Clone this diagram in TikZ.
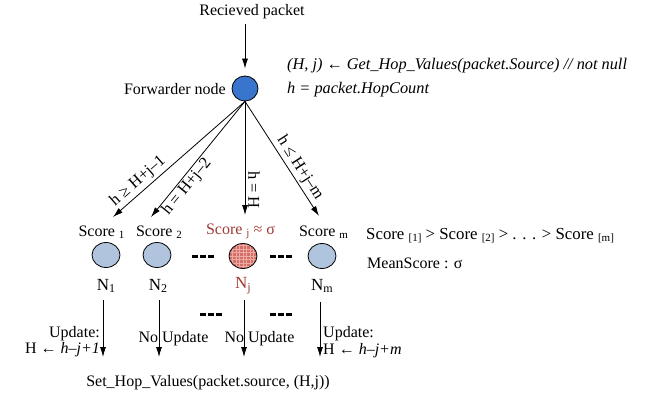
\documentclass[tikz,border=0pt]{standalone}
\usepackage{fontspec}
\setmainfont{Liberation Serif}
\usetikzlibrary{arrows.meta,shapes.geometric}
\definecolor{fwblue}{RGB}{58,117,205}
\definecolor{nblue}{RGB}{176,196,222}
\definecolor{nred}{RGB}{212,112,106}
\definecolor{gridred}{RGB}{238,170,162}
\definecolor{tred}{RGB}{158,58,52}
\newcommand\sbs[1]{\raisebox{-0.3ex}{\fontsize{11}{11}\selectfont #1}}
\newcommand\nsb[1]{\raisebox{-0.35ex}{\fontsize{12}{12}\selectfont #1}}
\begin{document}
\begin{tikzpicture}[x=1pt,y=-1pt,
  every node/.style={font=\fontsize{16}{19}\selectfont, inner sep=1pt},
  circ/.style={draw=black, line width=0.8pt, ellipse, minimum width=28pt, minimum height=25pt, inner sep=0pt},
  arr/.style={-{Latex[length=10pt,width=6pt]}, line width=0.8pt},
  elab/.style={font=\fontsize{16.5}{19}\selectfont, inner sep=0pt},
  nlab/.style={font=\fontsize{17}{20}\selectfont},
  itl/.style={font=\fontsize{16.3}{19}\selectfont\itshape},
  dots/.style={line width=3pt, dash pattern=on 5.5pt off 2.5pt},
]
\path[use as bounding box] (0,0) rectangle (662,396);

% top
\node (rp) at (252,12) {Recieved packet};
\node[circ, fill=fwblue, minimum width=26pt] (fw) at (245,88.5) {};
\node[anchor=east] (fwl) at (227,89) {Forwarder node};
\node[itl, anchor=west] (eq1) at (286,66) {(H, j) ← Get\_Hop\_Values(packet.Source) // not null};
\node[itl, anchor=west] (eq2) at (286,90) {h = packet.HopCount};
\draw[arr, shorten <=4pt, shorten >=7pt] (fw |- rp.south) -- (fw.north);

% arrow tips
\coordinate (t1) at (113,217);
\coordinate (t2) at (151,217);
\coordinate (tj) at (245,215);
\coordinate (tm) at (319,216);

\draw[arr] (fw.south) -- (t1);
\draw[arr] (fw.south) -- (t2);
\draw[arr] (fw.south) -- (tj);
\draw[arr] (fw.south) -- (tm);

% edge labels
\node[elab, rotate=41.3] (e1) at (138,181) {h ≥ H+j–1};
\node[elab, rotate=51] (e2) at (187,187) {h = H+j–2};
\node[elab, rotate=-90] (e3) at (254,190) {h = H};
\node[elab, rotate=-57.2] (e4) at (300,168) {h ≤ H+j–m};

% scores
\node (s1) at (101.5,232) {Score \sbs{1}};
\node (s2) at (159,232) {Score \sbs{2}};
\node[text=tred] (sj) at (240.5,231) {Score \sbs{j} ≈ σ};
\node (sm) at (323.5,232) {Score \sbs{m}};

% circles
\node[circ, fill=nblue] (n1) at (106,255) {};
\node[circ, fill=nblue] (n2) at (157,255) {};
\node[circ, fill=nred, path picture={
  \foreach \d in {-10.5,-7,...,11} {
    \draw[gridred, line width=0.6pt] ([xshift=\d pt]path picture bounding box.north) -- ([xshift=\d pt]path picture bounding box.south);
    \draw[gridred, line width=0.6pt] ([yshift=\d pt]path picture bounding box.west) -- ([yshift=\d pt]path picture bounding box.east);
  }}] (nj) at (243,256) {};
\node[circ, fill=nblue] (nm) at (322,256) {};

% dots
\draw[dots] (192,256) -- (213.5,256);
\draw[dots] (270,256) -- (291.5,256);
\draw[dots] (200,314) -- (221.5,314);
\draw[dots] (270,314) -- (291.5,314);

% N labels
\node[nlab] (l1) at (106,286) {N\nsb{1}};
\node[nlab] (l2) at (158,286) {N\nsb{2}};
\node[nlab, text=tred] (lj) at (243,286) {N\nsb{j}};
\node[nlab] (lm) at (322,286) {N\nsb{m}};

% right texts
\node[anchor=west, font=\fontsize{16.8}{19}\selectfont] (ord) at (365,236) {Score \sbs{[1]} > Score \sbs{[2]} > . . . > Score \sbs{[m]}};
\node[anchor=west] (mean) at (366,263) {MeanScore : σ};

% bottom arrows
\coordinate (u1) at (103,300); \coordinate (d1) at (103,357);
\coordinate (u2) at (159,300); \coordinate (d2) at (159,357);
\coordinate (uj) at (244,300); \coordinate (dj) at (244,357);
\coordinate (um) at (320,302); \coordinate (dm) at (320,357);
\draw[arr] (u1) -- (d1);
\draw[arr] (u2) -- (d2);
\draw[arr] (uj) -- (dj);
\draw[arr] (um) -- (dm);

\node[anchor=east] (up1) at (101,334) {Update:};
\node[anchor=east] (h1) at (101,350) {H ← \textit{h–j+1}};
\node (nu1) at (173.5,339) {No Update};
\node (nu2) at (259.5,339) {No Update};
\node[anchor=west] (upm) at (322,334) {Update:};
\node[anchor=west] (hm) at (322,351) {H ← \textit{h–j+m}};
\node (set) at (208,383) {Set\_Hop\_Values(packet.source, (H,j))};
\end{tikzpicture}
\end{document}
